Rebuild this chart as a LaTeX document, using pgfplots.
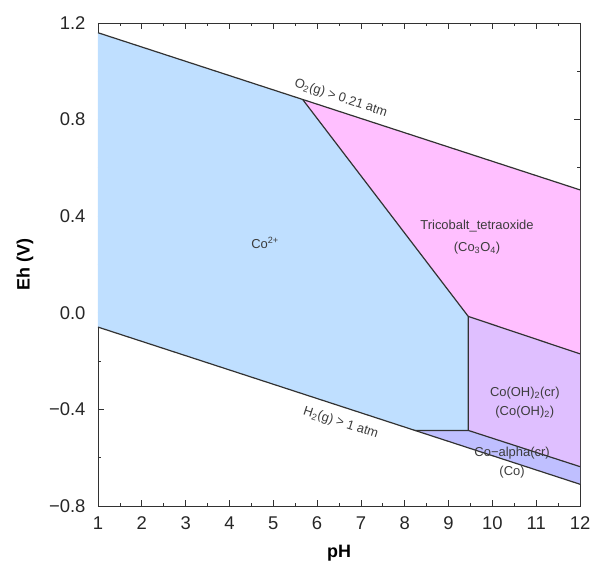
\documentclass[border=0pt]{standalone}
\usepackage{fontspec}
\setmainfont{Liberation Sans}
\usepackage{pgfplots}
\pgfplotsset{compat=1.18}
\definecolor{cotwo}{RGB}{191,223,255}
\definecolor{cothree}{RGB}{255,191,255}
\definecolor{cooh}{RGB}{223,191,255}
\definecolor{coal}{RGB}{191,191,255}
\definecolor{bnd}{RGB}{50,50,50}
\definecolor{lbl}{RGB}{60,60,60}
\begin{document}
\begin{tikzpicture}
\begin{axis}[
  scale only axis, width=482bp, height=483bp,
  xmin=1, xmax=12, ymin=-0.8, ymax=1.2,
  xtick={1,2,3,4,5,6,7,8,9,10,11,12},
  xticklabels={1,2,3,4,5,6,7,8,9,10,11,12},
  ytick={-0.8,-0.4,0,0.4,0.8,1.2},
  yticklabels={−0.8,−0.4,0.0,0.4,0.8,1.2},
  minor x tick num=1, minor y tick num=1,
  tick align=inside,
  major tick length=6bp, minor tick length=3.5bp,
  ticklabel style={font=\fontsize{18.5}{21}\selectfont, text=black!85},
  xticklabel style={yshift=-7bp},
  yticklabel style={xshift=-9bp},
  xlabel={pH}, ylabel={Eh (V)},
  xlabel style={font=\fontsize{18}{21}\selectfont\bfseries, at={(axis description cs:0.5,-0.0973)}, anchor=center},
  ylabel style={font=\fontsize{18}{21}\selectfont\bfseries, at={(axis description cs:-0.1515,0.5)}, anchor=center},
  axis line style={bnd, line width=0.9bp},
  every tick/.style={bnd, line width=0.8bp},
]
% regions
\addplot[fill=cotwo, draw=none] coordinates {(1,1.1597) (5.67,0.8835) (9.45,-0.015) (9.45,-0.487) (8.23,-0.487) (1,-0.0592)} -- cycle;
\addplot[fill=cothree, draw=none] coordinates {(5.67,0.8835) (12,0.5090) (12,-0.170) (9.45,-0.015)} -- cycle;
\addplot[fill=cooh, draw=none] coordinates {(9.45,-0.015) (12,-0.170) (12,-0.637) (9.45,-0.487)} -- cycle;
\addplot[fill=coal, draw=none] coordinates {(8.23,-0.487) (9.45,-0.487) (12,-0.637) (12,-0.7099)} -- cycle;
% boundaries
\addplot[bnd, line width=1.2bp] coordinates {(1,1.1597) (12,0.5090)};
\addplot[bnd, line width=1.2bp] coordinates {(1,-0.0592) (12,-0.7099)};
\addplot[bnd, line width=1.2bp] coordinates {(5.67,0.8835) (9.45,-0.015) (9.45,-0.487)};
\addplot[bnd, line width=1.2bp] coordinates {(8.23,-0.487) (9.45,-0.487) (12,-0.637)};
\addplot[bnd, line width=1.2bp] coordinates {(9.45,-0.015) (12,-0.170)};
% labels
\begin{scope}[every node/.style={font=\fontsize{13}{15}\selectfont, text=lbl}]
\node[rotate=-18] at (axis cs:6.54,0.888) {O\textsubscript{2}(g) > 0.21 atm};
\node[rotate=-18] at (axis cs:6.54,-0.456) {H\textsubscript{2}(g) > 1 atm};
\node at (axis cs:4.81,0.289) {Co\textsuperscript{2+}};
\node at (axis cs:9.65,0.359) {Tricobalt\_tetraoxide};
\node at (axis cs:9.65,0.268) {(Co\textsubscript{3}O\textsubscript{4})};
\node at (axis cs:10.74,-0.332) {Co(OH)\textsubscript{2}(cr)};
\node at (axis cs:10.74,-0.411) {(Co(OH)\textsubscript{2})};
\node at (axis cs:10.45,-0.581) {Co−alpha(cr)};
\node at (axis cs:10.45,-0.659) {(Co)};
\end{scope}
\coordinate (SW) at (rel axis cs:0,0);
\coordinate (NE) at (rel axis cs:1,1);
\end{axis}
\pgfresetboundingbox
\path[use as bounding box] ([xshift=-98bp,yshift=-60bp]SW) rectangle ([xshift=15bp,yshift=23bp]NE);
\end{tikzpicture}
\end{document}
